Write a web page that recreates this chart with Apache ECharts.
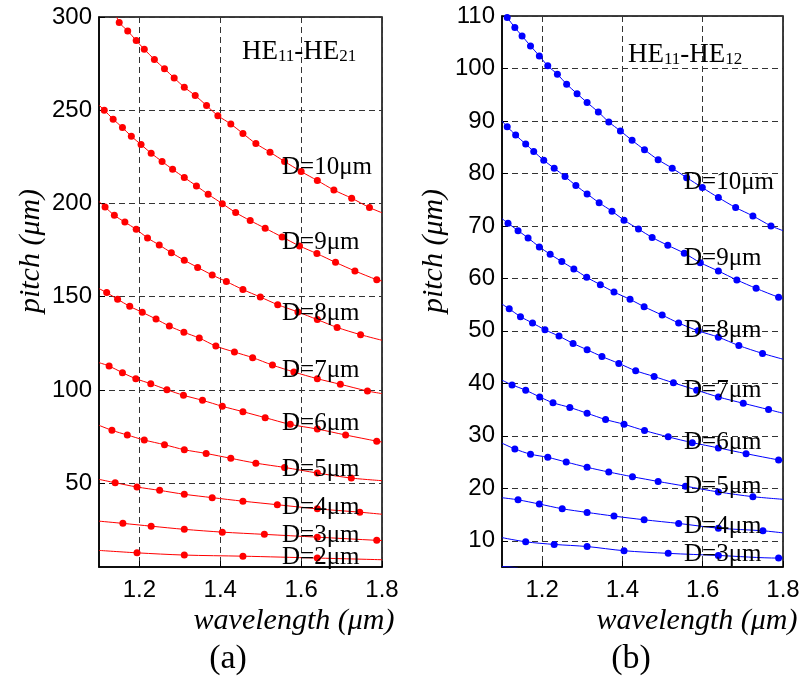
<!DOCTYPE html>
<html>
<head>
<meta charset="utf-8">
<script src="https://cdn.jsdelivr.net/npm/echarts@6/dist/echarts.min.js"></script>
<style>
  html, body { margin: 0; padding: 0; background: #fff; }
  #chart { width: 812px; height: 679px; }
</style>
</head>
<body>
<div id="chart"></div>
<script>
// panel (a): HE11-HE21, [wavelength, pitch]; first/last point = line ends (no dot)
const a10 = [[1.144,300],[1.150,297.0],[1.171,292.5],[1.192,287.4],[1.212,282.7],[1.237,277.2],[1.262,272.2],[1.286,267.3],[1.311,262.3],[1.338,257.9],[1.366,252.5],[1.394,247.1],[1.426,242.6],[1.456,237.5],[1.488,232.1],[1.523,227.5],[1.559,222.5],[1.600,217.1],[1.640,212.3],[1.681,207.2],[1.725,202.8],[1.769,197.8],[1.8,195.0]]
const a9 = [[1.1,252.7],[1.113,250.0],[1.135,245.2],[1.158,240.7],[1.180,236.0],[1.204,231.6],[1.229,226.9],[1.256,222.5],[1.282,218.3],[1.311,213.9],[1.341,209.4],[1.370,204.9],[1.405,199.9],[1.438,195.1],[1.474,190.8],[1.511,186.7],[1.553,182.0],[1.596,177.2],[1.639,173.1],[1.685,168.4],[1.733,163.8],[1.787,159.1],[1.8,158.4]]
const a8 = [[1.1,201.0],[1.115,198.1],[1.138,193.6],[1.164,190.0],[1.192,186.1],[1.220,181.5],[1.249,177.7],[1.279,173.6],[1.311,169.5],[1.344,165.7],[1.380,161.6],[1.415,158.1],[1.456,153.8],[1.499,149.8],[1.542,145.7],[1.592,141.8],[1.640,137.7],[1.689,133.5],[1.747,129.6],[1.8,126.6]]
const a7 = [[1.1,154.3],[1.119,152.2],[1.146,148.6],[1.176,144.8],[1.207,141.6],[1.241,138.0],[1.274,134.2],[1.310,130.9],[1.348,127.8],[1.389,123.5],[1.435,120.3],[1.480,117.3],[1.529,113.3],[1.582,109.6],[1.640,106.0],[1.697,103.0],[1.764,99.4],[1.8,98.0]]
const a6 = [[1.1,114.6],[1.125,112.8],[1.158,109.2],[1.191,106.0],[1.228,103.3],[1.268,100.1],[1.309,97.1],[1.356,94.4],[1.405,91.2],[1.456,88.3],[1.511,85.1],[1.573,81.5],[1.640,79.0],[1.710,75.8],[1.787,72.5],[1.8,72.0]]
const a5 = [[1.1,81.0],[1.132,78.3],[1.170,75.8],[1.212,73.1],[1.262,70.6],[1.311,67.9],[1.365,65.9],[1.426,63.3],[1.488,60.7],[1.559,58.4],[1.640,55.4],[1.724,52.7],[1.8,51.3]]
const a4 = [[1.1,52.0],[1.140,50.2],[1.194,47.9],[1.250,46.1],[1.311,44.0],[1.380,42.2],[1.456,40.3],[1.541,38.4],[1.640,36.2],[1.745,34.4],[1.8,33.3]]
const a3 = [[1.1,29.6],[1.159,28.4],[1.229,26.9],[1.311,25.2],[1.405,23.7],[1.509,22.5],[1.640,21.0],[1.787,19.3],[1.8,19.2]]
const a2 = [[1.1,13.9],[1.194,12.6],[1.311,11.4],[1.456,10.8],[1.640,9.8],[1.8,8.9]]

// panel (b): HE11-HE12
const b10 = [[1.109,110],[1.113,109.7],[1.132,107.8],[1.150,106.2],[1.171,104.3],[1.193,102.4],[1.214,100.5],[1.238,98.9],[1.261,97.0],[1.287,95.2],[1.312,93.5],[1.340,91.7],[1.366,89.8],[1.395,88.1],[1.424,86.3],[1.455,84.5],[1.489,82.6],[1.524,81.0],[1.560,79.2],[1.599,77.3],[1.639,75.4],[1.682,73.5],[1.725,71.9],[1.770,70.0],[1.8,69.1]]
const b9 = [[1.1,90.0],[1.113,88.9],[1.134,87.3],[1.159,85.6],[1.179,84.2],[1.204,82.5],[1.230,81.0],[1.257,79.4],[1.284,77.7],[1.312,76.1],[1.342,74.4],[1.374,72.8],[1.404,71.1],[1.440,69.4],[1.474,67.8],[1.513,66.3],[1.554,64.8],[1.594,63.0],[1.639,61.4],[1.685,59.7],[1.733,58.1],[1.789,56.4],[1.8,56.2]]
const b8 = [[1.1,71.4],[1.115,70.5],[1.140,69.1],[1.165,67.7],[1.193,66.0],[1.220,64.6],[1.249,63.2],[1.279,61.8],[1.311,60.2],[1.345,58.8],[1.379,57.4],[1.419,56.0],[1.454,54.6],[1.499,53.0],[1.540,51.5],[1.589,50.0],[1.639,48.8],[1.690,47.2],[1.749,45.7],[1.8,44.6]]
const b7 = [[1.1,55.1],[1.118,54.2],[1.146,52.7],[1.176,51.5],[1.207,50.2],[1.242,49.0],[1.277,47.6],[1.312,46.4],[1.349,45.1],[1.391,43.8],[1.433,42.4],[1.479,41.3],[1.527,40.1],[1.585,38.7],[1.639,37.4],[1.701,36.2],[1.764,35.0],[1.8,34.3]]
const b6 = [[1.1,40.6],[1.125,39.7],[1.159,38.7],[1.194,37.4],[1.227,36.3],[1.269,35.4],[1.312,34.3],[1.358,33.1],[1.404,32.2],[1.455,31.0],[1.514,29.8],[1.574,28.7],[1.639,27.7],[1.708,26.6],[1.789,25.4],[1.8,25.3]]
const b5 = [[1.1,28.6],[1.132,27.5],[1.171,26.5],[1.214,25.9],[1.260,25.0],[1.312,24.0],[1.366,23.1],[1.425,22.2],[1.489,21.3],[1.557,20.4],[1.639,19.3],[1.725,18.4],[1.8,17.9]]
const b4 = [[1.1,18.2],[1.140,17.8],[1.193,17.0],[1.250,16.1],[1.312,15.4],[1.379,14.7],[1.454,14.0],[1.540,13.3],[1.639,12.4],[1.750,11.9],[1.8,11.5]]
const b3 = [[1.1,10.6],[1.159,9.8],[1.230,9.3],[1.312,8.9],[1.404,8.1],[1.514,7.6],[1.639,7.2],[1.789,6.7],[1.8,6.7]]
const b2 = [[1.1,5.1],[1.12,5.0],[1.14,4.8]]  // clipped curve at the bottom

const xTicks = [1.2, 1.4, 1.6, 1.8]
const yTicksA = [50, 100, 150, 200, 250, 300]
const yTicksB = [10, 20, 30, 40, 50, 60, 70, 80, 90, 100, 110]
const labelsA = ['D=10μm', 'D=9μm', 'D=8μm', 'D=7μm', 'D=6μm', 'D=5μm', 'D=4μm', 'D=3μm', 'D=2μm']
const labelsB = ['D=10μm', 'D=9μm', 'D=8μm', 'D=7μm', 'D=6μm', 'D=5μm', 'D=4μm', 'D=3μm']

const serif = '"Liberation Serif", "Times New Roman", serif'
const sans = '"Liberation Sans", Arial, sans-serif'

function curve(points, color, idx, dots) {
  return {
    type: 'line',
    xAxisIndex: idx,
    yAxisIndex: idx,
    smooth: 0.3,
    symbol: 'circle',
    symbolSize: 7,
    showSymbol: dots,
    lineStyle: { color: color, width: 1 },
    itemStyle: { color: color },
    data: points.map((p, i) => (i === 0 || i === points.length - 1) ? { value: p, symbol: 'none' } : p),
    animation: false,
    silent: true,
  }
}

function xAxis(idx) {
  return {
    gridIndex: idx,
    type: 'value',
    min: 1.1,
    max: 1.8,
    axisLine: { lineStyle: { color: '#000', width: 1.5 } },
    axisTick: { inside: true, length: 6, customValues: xTicks, lineStyle: { color: '#000' } },
    axisLabel: { customValues: xTicks, color: '#000', fontSize: 24, fontFamily: sans, margin: 11 },
    splitLine: { show: true, lineStyle: { color: '#333', width: 1, type: [6, 4] } },
  }
}

function yAxis(idx, max, ticks) {
  return {
    gridIndex: idx,
    type: 'value',
    min: 5,
    max: max,
    axisLine: { lineStyle: { color: '#000', width: 1.5 } },
    axisTick: { inside: true, length: 6, customValues: ticks, lineStyle: { color: '#000' } },
    axisLabel: { customValues: ticks, color: '#000', fontSize: 24, fontFamily: sans, margin: 7 },
    splitLine: { show: true, lineStyle: { color: '#333', width: 1, type: [6, 4] } },
  }
}

function text(str, x, y, font, align, rot) {
  return {
    type: 'text',
    x: x,
    y: y,
    rotation: rot || 0,
    z: 100,
    style: { text: str, font: font, fill: '#000', align: align || 'left', verticalAlign: 'middle' },
  }
}

function heText(str, x, y) {
  return {
    type: 'text',
    x: x,
    y: y,
    z: 100,
    style: {
      text: str,
      align: 'left',
      verticalAlign: 'middle',
      rich: {
        a: { font: '27px ' + serif, fill: '#000', lineHeight: 30, verticalAlign: 'bottom' },
        s: { font: '17px ' + serif, fill: '#000', lineHeight: 14, verticalAlign: 'bottom' },
      },
    },
  }
}

let myChart = echarts.init(document.getElementById('chart'))

const labelYA = [167, 242, 313, 370, 423, 469, 507, 535, 557]
const labelYB = [182, 258, 330, 390, 442, 486, 526, 554]

let graphics = [
  text('pitch (μm)', 31, 251, 'italic 30px ' + serif, 'center', Math.PI / 2),
  text('pitch (μm)', 434, 251, 'italic 30px ' + serif, 'center', Math.PI / 2),
  text('wavelength (μm)', 294, 621, 'italic 30px ' + serif, 'center'),
  text('wavelength (μm)', 697, 621, 'italic 30px ' + serif, 'center'),
  text('(a)', 228, 659, '34px ' + serif, 'center'),
  text('(b)', 631, 659, '34px ' + serif, 'center'),
  heText('{a|HE}{s|11}{a|-HE}{s|21}', 242, 50),
  heText('{a|HE}{s|11}{a|-HE}{s|12}', 628, 53),
]
labelsA.forEach((t, i) => graphics.push(text(t, 282, labelYA[i], '25px ' + serif)))
labelsB.forEach((t, i) => graphics.push(text(t, 684, labelYB[i], '25px ' + serif)))

myChart.setOption({
  backgroundColor: '#fff',
  animation: false,
  grid: [
    { left: 99, top: 17, width: 283, height: 550, show: true, borderColor: '#000', borderWidth: 1.5 },
    { left: 502, top: 16, width: 281, height: 551, show: true, borderColor: '#000', borderWidth: 1.5 },
  ],
  xAxis: [xAxis(0), xAxis(1)],
  yAxis: [yAxis(0, 300, yTicksA), yAxis(1, 110, yTicksB)],
  series: [
    curve(a10, '#ff0000', 0, true),
    curve(a9, '#ff0000', 0, true),
    curve(a8, '#ff0000', 0, true),
    curve(a7, '#ff0000', 0, true),
    curve(a6, '#ff0000', 0, true),
    curve(a5, '#ff0000', 0, true),
    curve(a4, '#ff0000', 0, true),
    curve(a3, '#ff0000', 0, true),
    curve(a2, '#ff0000', 0, true),
    curve(b10, '#0000ff', 1, true),
    curve(b9, '#0000ff', 1, true),
    curve(b8, '#0000ff', 1, true),
    curve(b7, '#0000ff', 1, true),
    curve(b6, '#0000ff', 1, true),
    curve(b5, '#0000ff', 1, true),
    curve(b4, '#0000ff', 1, true),
    curve(b3, '#0000ff', 1, true),
    curve(b2, '#0000ff', 1, false),
  ],
  graphic: graphics,
})
</script>
</body>
</html>
